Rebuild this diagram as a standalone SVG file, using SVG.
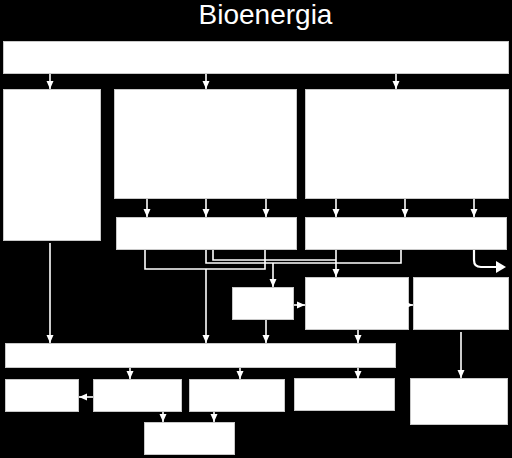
<svg xmlns="http://www.w3.org/2000/svg" width="512" height="458" viewBox="0 0 512 458">
<defs>
<style>
.box{fill:#fff;stroke:#c8c8c8;stroke-width:1}
.c{fill:none;stroke:#fff;stroke-width:1.6}
.a{marker-end:url(#ah)}
.title{font-family:"Liberation Sans",Arial,sans-serif;font-size:28px;fill:#fff}
</style>
<marker id="ah" markerWidth="9" markerHeight="9" refX="8" refY="4.5" orient="auto" markerUnits="userSpaceOnUse"><path d="M0,1 L8,4.5 L0,8 z" fill="#fff"/></marker>
</defs>
<rect width="512" height="458" fill="#000"/>
<text class="title" x="265.5" y="24" text-anchor="middle">Bioenergia</text>
<g id="n-top"><rect class="box" x="3.5" y="41.5" width="505" height="32"/></g>
<g id="n-left"><rect class="box" x="3.5" y="89.5" width="97" height="151"/></g>
<g id="n-mid"><rect class="box" x="114.5" y="89.5" width="182" height="109"/></g>
<g id="n-right"><rect class="box" x="305.5" y="89.5" width="203" height="109"/></g>
<g id="n-mid3"><rect class="box" x="116.5" y="217.5" width="180" height="32"/></g>
<g id="n-right3"><rect class="box" x="305.5" y="217.5" width="201" height="32"/></g>
<g id="n-a"><rect class="box" x="232.5" y="287.5" width="61" height="32"/></g>
<g id="n-b"><rect class="box" x="305.5" y="277.5" width="103" height="52"/></g>
<g id="n-c"><rect class="box" x="413.5" y="277.5" width="95" height="52"/></g>
<g id="n-big"><rect class="box" x="5.5" y="343.5" width="390" height="24"/></g>
<g id="n-r6a"><rect class="box" x="5.5" y="379.5" width="73" height="32"/></g>
<g id="n-r6b"><rect class="box" x="93.5" y="379.5" width="88" height="32"/></g>
<g id="n-r6c"><rect class="box" x="189.5" y="379.5" width="95" height="32"/></g>
<g id="n-r6d"><rect class="box" x="294.5" y="378.5" width="100" height="32"/></g>
<g id="n-r6e"><rect class="box" x="410.5" y="378.5" width="97" height="46"/></g>
<g id="n-r7"><rect class="box" x="144.5" y="422.5" width="90" height="32"/></g>
<g id="connectors">
<path class="c a" d="M50,74 V89"/>
<path class="c a" d="M206,74 V89"/>
<path class="c a" d="M396,74 V89"/>
<path class="c a" d="M147,199 V217"/>
<path class="c a" d="M206,199 V217"/>
<path class="c a" d="M266,199 V217"/>
<path class="c a" d="M336,199 V217"/>
<path class="c a" d="M405,199 V217"/>
<path class="c a" d="M474,199 V217"/>
<path class="c a" d="M50,243 V343"/>
<path class="c" d="M145,250 V269 H265 V250"/>
<path class="c a" d="M206,269 V343"/>
<path class="c" d="M206,250 V263 H401 V250"/>
<path class="c" d="M213,250 V260 H336"/>
<path class="c a" d="M336,250 V277"/>
<path class="c a" d="M273,263 V287"/>
<path class="c" d="M474,250 V260 Q474,267 481,267 H497" style="stroke-width:2.2"/>
<path d="M496,261 L506,267 L496,273 z" fill="#fff"/>
<path class="c a" d="M294,305 H305"/>
<path class="c a" d="M406,305 H413"/>
<path class="c a" d="M266,320 V343"/>
<path class="c a" d="M358,330 V343"/>
<path class="c a" d="M461,332 V378"/>
<path class="c a" d="M130,368 V379"/>
<path class="c a" d="M240,368 V379"/>
<path class="c a" d="M358,368 V379"/>
<path class="c a" d="M93,397 H79"/>
<path class="c a" d="M163,412 V422"/>
<path class="c a" d="M214,412 V422"/>
</g>
</svg>
